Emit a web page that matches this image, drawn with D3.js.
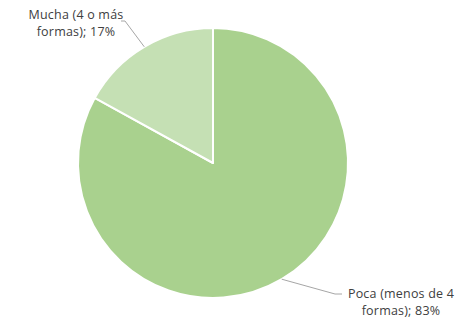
<!DOCTYPE html>
<html>
<head>
<meta charset="utf-8">
<script src="https://cdn.jsdelivr.net/npm/d3@7"></script>
<style>
  html, body { margin: 0; padding: 0; background: #fff; }
  svg { display: block; }
  text { font-family: "Open Sans", "Liberation Sans", sans-serif; fill: #404040; }
</style>
</head>
<body>
<svg id="chart" width="473" height="320"></svg>
<script>
// Slice data
const categories = ["Poca (menos de 4 formas)", "Mucha (4 o más formas)"];
const values = [83, 17];
const labelLines = [["Poca (menos de 4", "formas); 83%"], ["Mucha (4 o más", "formas); 17%"]];
const colors = ["#A9D18E", "#C5E0B4"];

const W = 473, H = 320;
const cx = 213, cy = 163, R = 135;

const svg = d3.select("#chart");
const g = svg.append("g").attr("transform", `translate(${cx},${cy})`);

const pie = d3.pie().sort(null).value(d => d.value);
const arcs = pie(categories.map((c, i) => ({ name: c, value: values[i], i })));
const arc = d3.arc().innerRadius(0).outerRadius(R);

g.selectAll("path.slice")
  .data(arcs)
  .enter().append("path")
  .attr("class", "slice")
  .attr("d", arc)
  .attr("fill", d => colors[d.data.i])
  .attr("stroke", "#fff")
  .attr("stroke-width", 2)
  .attr("stroke-linejoin", "round");

// Leader lines and labels: elbow point and text block placement per slice
const labelLayout = [
  { elbow: [122, 131], end: [129, 131], tx: 188, ty: 135 },
  { elbow: [-88, -142], end: [-92, -142], tx: -137, ty: -144 }
];

arcs.forEach((d, k) => {
  const mid = (d.startAngle + d.endAngle) / 2;
  const p0 = [R * Math.sin(mid), -R * Math.cos(mid)];
  const L = labelLayout[k];
  g.append("polyline")
    .attr("points", [p0, L.elbow, L.end].map(p => p.join(",")).join(" "))
    .attr("fill", "none")
    .attr("stroke", "#a6a6a6")
    .attr("stroke-width", 1);
  const t = g.append("text")
    .attr("text-anchor", "middle")
    .attr("font-size", 12.5)
    .attr("letter-spacing", 0.2);
  labelLines[d.data.i].forEach((line, j) => {
    t.append("tspan")
      .attr("x", L.tx)
      .attr("y", L.ty + j * 17)
      .text(line);
  });
});
</script>
</body>
</html>
